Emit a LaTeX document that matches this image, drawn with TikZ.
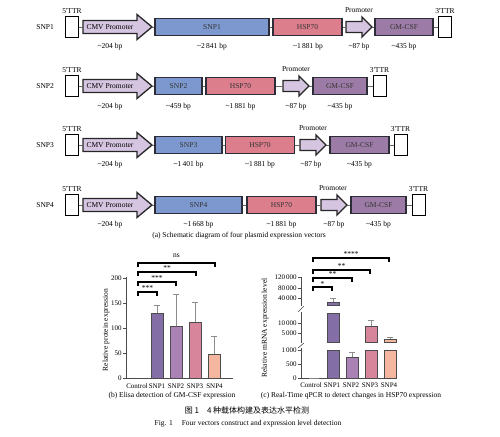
\documentclass[tikz,border=0pt]{standalone}
\usepackage{fontspec}
\setmainfont{Liberation Serif}
\newfontfamily\cjkfont{Noto Sans CJK SC}
\usepackage{tikz}
\usetikzlibrary{positioning}

\definecolor{promolav}{RGB}{214,197,225}
\definecolor{snpblue}{RGB}{124,152,206}
\definecolor{hsppink}{RGB}{220,126,140}
\definecolor{gmpurple}{RGB}{156,124,166}
\definecolor{edgedark}{RGB}{45,45,55}
\definecolor{barA}{RGB}{132,110,166}
\definecolor{barB}{RGB}{170,130,182}
\definecolor{barC}{RGB}{215,133,155}
\definecolor{barD}{RGB}{244,182,158}

\begin{document}
\begin{tikzpicture}[x=1pt, y=-1pt,
    every node/.style={font=\fontsize{7.5}{9}\selectfont, inner sep=1pt},
    ttr/.style={draw=black, fill=white, line width=0.8pt, minimum width=13, minimum height=21, inner sep=0pt},
    ttrlab/.style={inner sep=0.5pt},
    rowlab/.style={font=\fontsize{7.5}{9}\selectfont},
    gene/.style={draw=edgedark, line width=1.1pt, minimum height=17, inner sep=0pt, text=black!80},
    snp/.style={gene, fill=snpblue},
    hsp/.style={gene, fill=hsppink, minimum width=69},
    gmcsf/.style={gene, fill=gmpurple},
    promo/.style={draw=black!85, line width=1.3pt, fill=promolav, line join=miter},
    link/.style={draw=gray!80!black, line width=0.6pt},
    bplab/.style={font=\fontsize{7.5}{9}\selectfont},
    captext/.style={font=\fontsize{7.5}{9}\selectfont},
    axisline/.style={draw=black!70, line width=0.6pt},
    ticklab/.style={font=\fontsize{7}{8}\selectfont, anchor=east, inner sep=1pt},
    catlab/.style={font=\fontsize{7}{8}\selectfont},
    barbox/.style={draw=black!70, line width=0.6pt},
    errbar/.style={draw=black!45, line width=0.6pt},
    sigline/.style={draw=black, line width=1.1pt},
    siglab/.style={font=\fontsize{7.5}{9}\selectfont, inner sep=0pt}]
  \useasboundingbox (0,0) rectangle (500,436);

  % ---- (a) four vectors ----
  \begin{scope}[shift={(0,27)}]
    \node[ttr] (ttrL1) at (72,0) {};
    \node[rowlab, left=10pt of ttrL1] (vec1) {SNP1};
    \node[ttrlab, above=2pt of ttrL1] (ttrL1lab) {5\textquotesingle TTR};
    \draw[promo] (83,-6.5) -- (137,-6.5) -- (137,-12.5) -- (152,0) -- (137,12.5) -- (137,6.5) -- (83,6.5) -- cycle;
    \coordinate (cmv1a) at (83,0);
    \coordinate (cmv1b) at (152,0);
    \node (cmv1) at (110,0) {CMV Promoter};
    \node[snp, minimum width=114] (snp1) at (212,0) {SNP1};
    \node[hsp] (hsp1) at (307.5,0) {HSP70};
    \draw[promo] (346,-5.5) -- (362,-5.5) -- (362,-10) -- (372,0) -- (362,10) -- (362,5.5) -- (346,5.5) -- cycle;
    \coordinate (pro1a) at (346,0);
    \coordinate (pro1b) at (372,0);
    \node (pro1lab) at (359,-17) {Promoter};
    \node[gmcsf, minimum width=58] (gm1) at (404,0) {GM-CSF};
    \node[ttr] (ttrR1) at (445,0) {};
    \node[ttrlab, above=2pt of ttrR1] (ttrR1lab) {3\textquotesingle TTR};
    \draw[link] (ttrL1) -- (cmv1a) (cmv1b) -- (snp1) (snp1) -- (hsp1)
      (hsp1) -- (pro1a) (pro1b) -- (gm1) (gm1) -- (ttrR1);
    \node[bplab] (bp1a) at (110,20) {\textasciitilde 204 bp};
    \node[bplab] (bp1b) at (212,20) {\textasciitilde 2\,841 bp};
    \node[bplab] (bp1c) at (308,20) {\textasciitilde 1\,881 bp};
    \node[bplab] (bp1d) at (359,20) {\textasciitilde 87 bp};
    \node[bplab] (bp1e) at (404,20) {\textasciitilde 435 bp};
  \end{scope}

  \begin{scope}[shift={(0,86)}]
    \node[ttr] (ttrL2) at (72,0) {};
    \node[rowlab, left=10pt of ttrL2] (vec2) {SNP2};
    \node[ttrlab, above=2pt of ttrL2] (ttrL2lab) {5\textquotesingle TTR};
    \draw[promo] (83,-6.5) -- (137,-6.5) -- (137,-12.5) -- (152,0) -- (137,12.5) -- (137,6.5) -- (83,6.5) -- cycle;
    \coordinate (cmv2a) at (83,0);
    \coordinate (cmv2b) at (152,0);
    \node (cmv2) at (110,0) {CMV Promoter};
    \node[snp, minimum width=47] (snp2) at (178.5,0) {SNP2};
    \node[hsp] (hsp2) at (240.5,0) {HSP70};
    \draw[promo] (283,-5.5) -- (299,-5.5) -- (299,-10) -- (309,0) -- (299,10) -- (299,5.5) -- (283,5.5) -- cycle;
    \coordinate (pro2a) at (283,0);
    \coordinate (pro2b) at (309,0);
    \node (pro2lab) at (296,-17) {Promoter};
    \node[gmcsf, minimum width=54] (gm2) at (340,0) {GM-CSF};
    \node[ttr] (ttrR2) at (379.5,0) {};
    \node[ttrlab, above=2pt of ttrR2] (ttrR2lab) {3\textquotesingle TTR};
    \draw[link] (ttrL2) -- (cmv2a) (cmv2b) -- (snp2) (snp2) -- (hsp2)
      (hsp2) -- (pro2a) (pro2b) -- (gm2) (gm2) -- (ttrR2);
    \node[bplab] (bp2a) at (110,21) {\textasciitilde 204 bp};
    \node[bplab] (bp2b) at (178.5,21) {\textasciitilde 459 bp};
    \node[bplab] (bp2c) at (240.5,21) {\textasciitilde 1\,881 bp};
    \node[bplab] (bp2d) at (296,21) {\textasciitilde 87 bp};
    \node[bplab] (bp2e) at (340,21) {\textasciitilde 435 bp};
  \end{scope}

  \begin{scope}[shift={(0,145)}]
    \node[ttr] (ttrL3) at (72,0) {};
    \node[rowlab, left=10pt of ttrL3] (vec3) {SNP3};
    \node[ttrlab, above=2pt of ttrL3] (ttrL3lab) {5\textquotesingle TTR};
    \draw[promo] (83,-6.5) -- (137,-6.5) -- (137,-12.5) -- (152,0) -- (137,12.5) -- (137,6.5) -- (83,6.5) -- cycle;
    \coordinate (cmv3a) at (83,0);
    \coordinate (cmv3b) at (152,0);
    \node (cmv3) at (110,0) {CMV Promoter};
    \node[snp, minimum width=67] (snp3) at (188.5,0) {SNP3};
    \node[hsp] (hsp3) at (260,0) {HSP70};
    \draw[promo] (300,-5.5) -- (316,-5.5) -- (316,-10) -- (326,0) -- (316,10) -- (316,5.5) -- (300,5.5) -- cycle;
    \coordinate (pro3a) at (300,0);
    \coordinate (pro3b) at (326,0);
    \node (pro3lab) at (313,-17) {Promoter};
    \node[gmcsf, minimum width=59] (gm3) at (359.5,0) {GM-CSF};
    \node[ttr] (ttrR3) at (400.5,0) {};
    \node[ttrlab, above=2pt of ttrR3] (ttrR3lab) {3\textquotesingle TTR};
    \draw[link] (ttrL3) -- (cmv3a) (cmv3b) -- (snp3) (snp3) -- (hsp3)
      (hsp3) -- (pro3a) (pro3b) -- (gm3) (gm3) -- (ttrR3);
    \node[bplab] (bp3a) at (110,20) {\textasciitilde 204 bp};
    \node[bplab] (bp3b) at (188.5,20) {\textasciitilde 1\,401 bp};
    \node[bplab] (bp3c) at (260,20) {\textasciitilde 1\,881 bp};
    \node[bplab] (bp3d) at (311,20) {\textasciitilde 87 bp};
    \node[bplab] (bp3e) at (359.5,20) {\textasciitilde 435 bp};
  \end{scope}

  \begin{scope}[shift={(0,205)}]
    \node[ttr] (ttrL4) at (72,0) {};
    \node[rowlab, left=10pt of ttrL4] (vec4) {SNP4};
    \node[ttrlab, above=2pt of ttrL4] (ttrL4lab) {5\textquotesingle TTR};
    \draw[promo] (83,-6.5) -- (137,-6.5) -- (137,-12.5) -- (152,0) -- (137,12.5) -- (137,6.5) -- (83,6.5) -- cycle;
    \coordinate (cmv4a) at (83,0);
    \coordinate (cmv4b) at (152,0);
    \node (cmv4) at (110,0) {CMV Promoter};
    \node[snp, minimum width=87] (snp4) at (198.5,0) {SNP4};
    \node[hsp] (hsp4) at (281.5,0) {HSP70};
    \draw[promo] (321,-5.5) -- (337,-5.5) -- (337,-10) -- (347,0) -- (337,10) -- (337,5.5) -- (321,5.5) -- cycle;
    \coordinate (pro4a) at (321,0);
    \coordinate (pro4b) at (347,0);
    \node (pro4lab) at (333,-17) {Promoter};
    \node[gmcsf, minimum width=55] (gm4) at (378.5,0) {GM-CSF};
    \node[ttr] (ttrR4) at (418.5,0) {};
    \node[ttrlab, above=2pt of ttrR4] (ttrR4lab) {3\textquotesingle TTR};
    \draw[link] (ttrL4) -- (cmv4a) (cmv4b) -- (snp4) (snp4) -- (hsp4)
      (hsp4) -- (pro4a) (pro4b) -- (gm4) (gm4) -- (ttrR4);
    \node[bplab] (bp4a) at (110,20) {\textasciitilde 204 bp};
    \node[bplab] (bp4b) at (198.5,20) {\textasciitilde 1\,668 bp};
    \node[bplab] (bp4c) at (281.5,20) {\textasciitilde 1\,881 bp};
    \node[bplab] (bp4d) at (334,20) {\textasciitilde 87 bp};
    \node[bplab] (bp4e) at (378.5,20) {\textasciitilde 435 bp};
  \end{scope}

  \node[captext] (capa) at (239,236) {(a) Schematic diagram of four plasmid expression vectors};

  % ---- (b) Elisa ----
  \draw[axisline] (126,378) -- (126,277);
  \draw[axisline] (126,378) -- (233,378);
  \foreach \v/\y in {0/378,50/353,100/328,150/303,200/278}
    \draw[axisline] (123,\y) -- (126,\y) node[ticklab, at start] {\v};
  \draw[barbox, fill=barA] (151,378) rectangle (163,313);
  \draw[barbox, fill=barB] (170,378) rectangle (182,326);
  \draw[barbox, fill=barC] (189,378) rectangle (201,322);
  \draw[barbox, fill=barD] (208,378) rectangle (220,354);
  \draw[errbar] (157,313) -- (157,305) (154,305) -- (160,305);
  \draw[errbar] (176,326) -- (176,294) (173,294) -- (179,294);
  \draw[errbar] (195,322) -- (195,302) (192,302) -- (198,302);
  \draw[errbar] (214,354) -- (214,336) (211,336) -- (217,336);
  \node[catlab] (bctl) at (137,386) {Control};
  \node[catlab] (bs1) at (157,386) {SNP1};
  \node[catlab] (bs2) at (176,386) {SNP2};
  \node[catlab] (bs3) at (195,386) {SNP3};
  \node[catlab] (bs4) at (214.5,386) {SNP4};
  \node[captext, rotate=90] (bylab) at (106,330) {Relative protein expression};
  \draw[sigline] (138,296) -- (138,292) -- (157,292) -- (157,296);
  \draw[sigline] (138,286) -- (138,282) -- (176,282) -- (176,286);
  \draw[sigline] (138,276) -- (138,272) -- (196,272) -- (196,276);
  \draw[sigline] (138,267) -- (138,263) -- (215,263) -- (215,267);
  \node[siglab] at (147.5,288) {***};
  \node[siglab] at (157,278) {***};
  \node[siglab] at (167,268) {**};
  \node[siglab] at (176.5,256) {ns};
  \node[captext] (capb) at (172,396) {(b) Elisa detection of GM-CSF expression};

  % ---- (c) qPCR ----
  \draw[axisline] (301,378) -- (301,348);
  \draw[axisline] (301,343) -- (301,312);
  \draw[axisline] (301,306) -- (301,277);
  \draw[axisline] (298,348) -- (304,343);
  \draw[axisline] (298,312) -- (304,306);
  \draw[axisline] (301,378) -- (397,378);
  \foreach \v/\y in {0/378,500/364,1\,000/350,5\,000/333,10\,000/323,40\,000/298,80\,000/288,120\,000/277}
    \draw[axisline] (298,\y) -- (301,\y) node[ticklab, at start] {\v};
  \draw[barbox, draw=black!50] (309,378) -- (319,378);
  \draw[barbox, fill=barA] (327,378) rectangle (339,350);
  \draw[barbox, fill=barA] (327,342) rectangle (339,313);
  \draw[barbox, fill=barA] (327,305) rectangle (339,302);
  \draw[barbox, fill=barB] (346,378) rectangle (358,357);
  \draw[barbox, fill=barC] (365,378) rectangle (377,350);
  \draw[barbox, fill=barC] (365,342) rectangle (377,326);
  \draw[barbox, fill=barD] (384,378) rectangle (396,350);
  \draw[barbox, fill=barD] (384,342) rectangle (396,339);
  \draw[errbar] (333,302) -- (333,298) (330,298) -- (336,298);
  \draw[errbar] (352,357) -- (352,352) (349,352) -- (355,352);
  \draw[errbar] (371,326) -- (371,320) (368,320) -- (374,320);
  \draw[errbar] (390,339) -- (390,337) (387,337) -- (393,337);
  \node[catlab] (cctl) at (311,385) {Control};
  \node[catlab] (cs1) at (332,385) {SNP1};
  \node[catlab] (cs2) at (351,385) {SNP2};
  \node[catlab] (cs3) at (370,385) {SNP3};
  \node[catlab] (cs4) at (389,385) {SNP4};
  \node[captext, rotate=90] (cylab) at (265,328) {Relative mRNA expression level};
  \draw[sigline] (313,291) -- (313,287) -- (332,287) -- (332,291);
  \draw[sigline] (313,282) -- (313,278) -- (352,278) -- (352,282);
  \draw[sigline] (313,274) -- (313,270) -- (370,270) -- (370,274);
  \draw[sigline] (313,262) -- (313,258) -- (389,258) -- (389,262);
  \node[siglab] at (322.5,284) {*};
  \node[siglab] at (332.5,274) {**};
  \node[siglab] at (341.5,266) {**};
  \node[siglab] at (351,254) {****};
  \node[captext] (capc) at (351,396) {(c) Real-Time qPCR to detect changes in HSP70 expression};

  % ---- figure caption ----
  \node[font=\fontsize{8}{10}\cjkfont] (figcn) at (247,410) {图 1\hspace{1em}4 种载体构建及表达水平检测};
  \node[captext] (figen) at (248,424) {Fig. 1\hspace{1.2em}Four vectors construct and expression level detection};
\end{tikzpicture}
\end{document}
